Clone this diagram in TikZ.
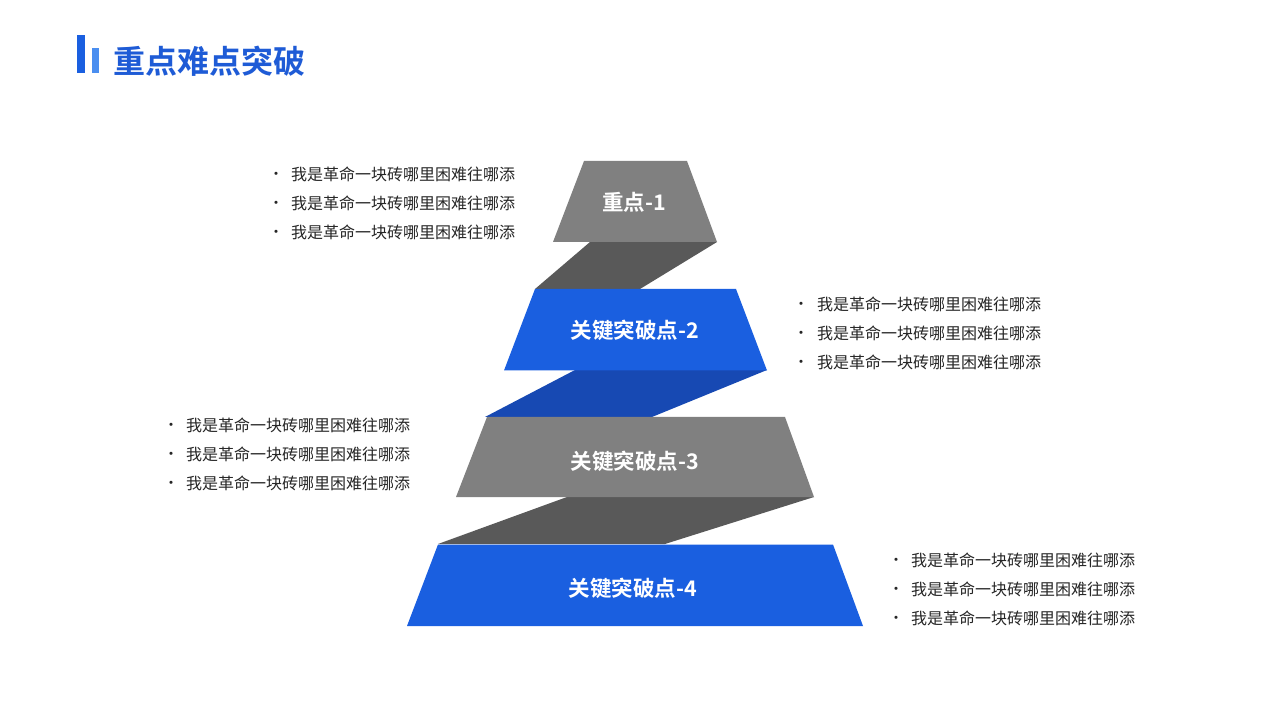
\documentclass[tikz,border=0pt]{standalone}
\usepackage{fontspec}
\setmainfont{Noto Sans CJK SC}
\newfontfamily\cjkb{Noto Sans CJK SC Bold}
\definecolor{tgray}{HTML}{808080}
\definecolor{cgray}{HTML}{595959}
\definecolor{tblue}{HTML}{1A5FE0}
\definecolor{cblue}{HTML}{1749B3}
\definecolor{titleblue}{HTML}{1E5BD6}
\definecolor{barlight}{HTML}{4A8EF0}
\definecolor{txt}{HTML}{262626}
\tikzset{
  lvl/.style={text=white,font=\cjkb\fontsize{21.5pt}{25pt}\selectfont,inner sep=0pt},
  item/.style={anchor=west,text=txt,font=\fontsize{16pt}{19pt}\selectfont,inner sep=0pt},
  dot/.style={text=txt,font=\fontsize{15pt}{17pt}\selectfont,inner sep=0pt}
}
\begin{document}
\begin{tikzpicture}[x=1pt,y=-1pt]
\useasboundingbox[fill=white] (0,0) rectangle (1278,719);
% title
\fill[tblue] (77,35) rectangle (85,73);
\fill[barlight] (92,48) rectangle (99,73);
\node[anchor=west,inner sep=0pt,text=titleblue,font=\cjkb\fontsize{32pt}{38pt}\selectfont] (title) at (113,61) {重点难点突破};
% connectors
\fill[cgray] (590,242) -- (717,242) -- (640,289) -- (535,289) -- cycle;
\fill[cblue] (575,370) -- (767,370) -- (652,417) -- (485,417) -- cycle;
\fill[cgray] (567,497) -- (814,497) -- (665,544) -- (438,544) -- cycle;
% trapezoids
\fill[tgray] (584,161) -- (687,161) -- (717,242) -- (553,242) -- cycle;
\fill[tblue] (535,289) -- (736,289) -- (767,370.5) -- (504,370.5) -- cycle;
\fill[tgray] (487,417) -- (785,417) -- (814,497) -- (456,497) -- cycle;
\fill[tblue] (438,544.5) -- (833,544.5) -- (863,626) -- (407,626) -- cycle;
% labels
\node[lvl] (l1) at (634,202) {重点-1};
\node[lvl] (l2) at (635,330) {关键突破点-2};
\node[lvl] (l3) at (635,461) {关键突破点-3};
\node[lvl] (l4) at (633,588) {关键突破点-4};
% lists
\foreach \bx/\tx/\ty/\n in {276/291/174/a,801/817/304/b,171/186/425/c,896/911/560/d}{
  \foreach \k in {0,1,2}{
    \node[dot] (b\n\k) at (\bx,\ty+29*\k+1.5) {•};
    \node[item] (t\n\k) at (\tx,\ty+29*\k) {我是革命一块砖哪里困难往哪添};
  }
}
\end{tikzpicture}
\end{document}
